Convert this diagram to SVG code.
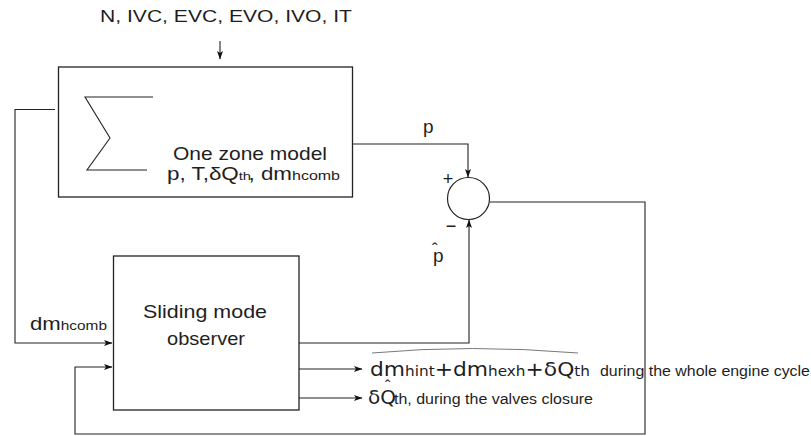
<svg xmlns="http://www.w3.org/2000/svg" width="811" height="436" viewBox="0 0 811 436">
<defs>
<marker id="arr" markerWidth="9" markerHeight="7" refX="8" refY="3.5" orient="auto" markerUnits="userSpaceOnUse">
<path d="M0,0.5 L8.5,3.5 L0,6.5 L2,3.5 z" fill="#111"/>
</marker>
<style>
.box{fill:none;stroke:#222;stroke-width:1.3}
.ln{fill:none;stroke:#222;stroke-width:1.1}
.t{font-family:"Liberation Sans",Arial,sans-serif;fill:#1e1e1e}
.f{font-family:"DejaVu Sans",sans-serif;fill:#1e1e1e}
</style>
</defs>
<rect width="811" height="436" fill="#fff"/>

<text class="t" x="100" y="22" font-size="17" textLength="252" lengthAdjust="spacingAndGlyphs">N, IVC, EVC, EVO, IVO, IT</text>

<g id="one-zone-model">
<rect class="box" x="58.5" y="67" width="294" height="130"/>
<polyline class="ln" points="153,97 85,97 110,138 87,170 147,170"/>
<text class="t" x="173" y="160" font-size="19" textLength="154" lengthAdjust="spacingAndGlyphs">One zone model</text>
<text class="t" x="167" y="180" font-size="17.5" textLength="173" lengthAdjust="spacingAndGlyphs">p, T,δQ<tspan font-size="11.5">th</tspan><tspan dx="-2">, dm</tspan><tspan font-size="12.5">hcomb</tspan></text>
</g>

<g id="comparator">
<circle cx="468.5" cy="198.5" r="21" fill="none" stroke="#222" stroke-width="1.2"/>
<text class="t" x="448" y="185" font-size="18" text-anchor="middle">+</text>
<text class="t" x="451" y="232" font-size="18" text-anchor="middle">−</text>
</g>

<g id="sliding-mode-observer">
<rect class="box" x="113.5" y="256" width="185.5" height="154"/>
<text class="t" x="143" y="318" font-size="19" textLength="124" lengthAdjust="spacingAndGlyphs">Sliding mode</text>
<text class="t" x="167" y="345" font-size="19" textLength="78" lengthAdjust="spacingAndGlyphs">observer</text>
</g>

<g id="connectors">
<line class="ln" x1="220" y1="41" x2="220" y2="59" marker-end="url(#arr)"/>
<polyline class="ln" points="352,144 468,144 468,177" marker-end="url(#arr)"/>
<polyline class="ln" points="55,109.5 15,109.5 15,343 112,343" marker-end="url(#arr)"/>
<polyline class="ln" points="299,343 469,343 469,220" marker-end="url(#arr)"/>
<polyline class="ln" points="490,202 645,202 645,434 75,434 75,367 112,367" marker-end="url(#arr)"/>
<line class="ln" x1="299" y1="369" x2="362" y2="369" marker-end="url(#arr)"/>
<line class="ln" x1="299" y1="398" x2="362" y2="398" marker-end="url(#arr)"/>
</g>

<g id="labels">
<text class="t" x="423" y="133" font-size="19">p</text>
<text class="t" x="433" y="262" font-size="19">p</text>
<text class="t" x="432" y="255" font-size="17">ˆ</text>
<text class="t" x="30" y="330" font-size="18" textLength="77" lengthAdjust="spacingAndGlyphs">dm<tspan font-size="12.5">hcomb</tspan></text>
<path d="M372,353 Q470,344 578,353" fill="none" stroke="#555" stroke-width="0.8"/>
<text class="f" x="370" y="376" font-size="20" textLength="220" lengthAdjust="spacingAndGlyphs">dm<tspan font-size="14">hint</tspan>+dm<tspan font-size="14">hexh</tspan>+δQ<tspan font-size="14">th</tspan></text>
<text class="t" x="600" y="376" font-size="14" textLength="210" lengthAdjust="spacingAndGlyphs">during the whole engine cycle</text>
<text class="t" x="385" y="392" font-size="16">ˆ</text>
<text class="f" x="368" y="404" font-size="20">δQ</text>
<text class="t" x="394" y="404" font-size="14" textLength="199" lengthAdjust="spacingAndGlyphs">th, during the valves closure</text>
</g>
</svg>
